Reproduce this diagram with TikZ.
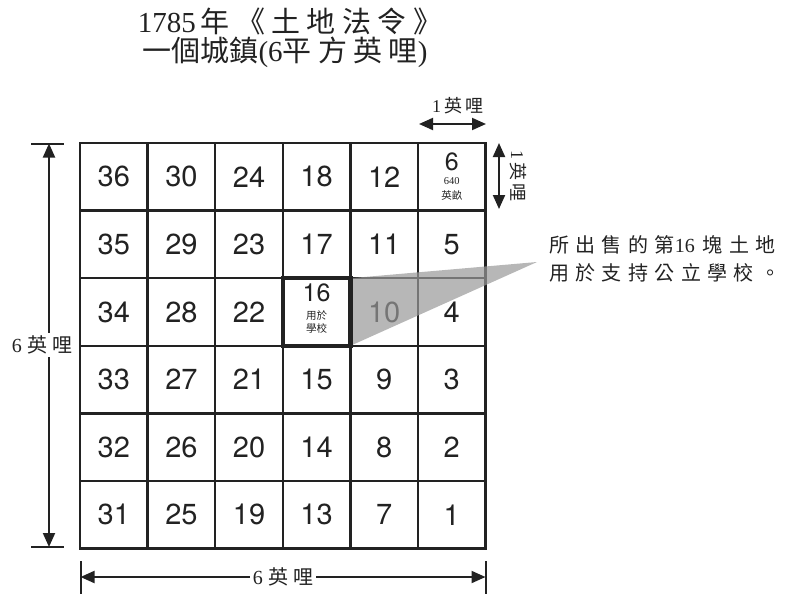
\documentclass[tikz,border=0pt]{standalone}
\usepackage{fontspec}
\usepackage{tikz}
\usetikzlibrary{arrows.meta}
\setmainfont{Liberation Serif}
\newfontfamily\cjk[LetterSpace=22]{Noto Sans CJK TC}
\newfontfamily\cjkwide[LetterSpace=32]{Noto Sans CJK TC}
\newfontfamily\cjktight{Noto Sans CJK TC}
\newfontfamily\numfont{TeX Gyre Heros}
\definecolor{ink}{HTML}{222222}

\begin{document}
\begin{tikzpicture}[x=1pt,y=-1pt,
    cell/.style={draw=ink,line width=2.3pt,minimum size=67.6pt,inner sep=0pt,outer sep=0pt},
    num/.style={text=ink,font=\numfont\fontsize{29}{29}\selectfont,inner sep=0pt},
    smallnum/.style={text=ink,font=\numfont\fontsize{25}{25}\selectfont,inner sep=0pt},
    tiny/.style={text=ink,font=\fontsize{10.5}{10.5}\selectfont,inner sep=0pt},
    dim/.style={ink,line width=2pt,{Triangle[length=14pt,width=12pt]}-{Triangle[length=14pt,width=12pt]}},
    tickline/.style={ink,line width=2pt},
    lbl/.style={text=ink,font=\fontsize{20}{20}\selectfont,fill=white,inner sep=3pt}]
    \useasboundingbox (0,0) rectangle (794,594);

    % title
    \node[text=ink] (title1) at (290,21) {\fontsize{29}{29}\selectfont 1785\hspace{5pt}{\cjk 年《土地法令》}};
    \node[text=ink] (title2) at (285,52) {\fontsize{29}{29}\selectfont{\cjktight 一個城鎮}(6{\cjk 平方英哩})};

    % township grid
    \foreach \col in {0,...,5}
        \foreach \row in {0,...,5}{
            \pgfmathtruncatemacro{\n}{36-6*\col-\row}
            \node[cell] (c\n) at ({113.8+67.6*\col},{176.8+67.6*\row}) {};
        }
    \foreach \n in {1,...,5,7,8,...,15,17,18,...,36}
        \node[num] at (c\n) {\n};

    \node[smallnum] (n6) at ([yshift=15pt]c6) {6};
    \node[tiny] (acre1) at ([yshift=-4pt]c6) {640};
    \node[tiny] (acre2) at ([yshift=-19pt]c6) {\cjktight 英畝};

    \node[smallnum] (n16) at ([yshift=19pt]c16) {16};
    \node[tiny] (school1) at ([yshift=-4pt]c16) {\cjktight 用於};
    \node[tiny] (school2) at ([yshift=-16pt]c16) {\cjktight 學校};

    % callout
    \coordinate (tip) at (537,262);
    \fill[black!40,fill opacity=0.7] (c16.north east) -- (tip) -- (c16.south east) -- cycle;
    \draw[ink,line width=4.5pt] (c16.north west) rectangle (c16.south east);
    \node[text=ink,anchor=west,inner sep=0pt] (note1) at (549,245)
        {\fontsize{20}{20}\selectfont{\cjkwide 所出售的第}16\hspace{8pt}{\cjkwide 塊土地}};
    \node[text=ink,anchor=west,inner sep=0pt] (note2) at (549,273)
        {\fontsize{20}{20}\selectfont{\cjkwide 用於支持公立學校。}};

    % dimensions
    \coordinate (ltop) at (49,143.5);
    \coordinate (lbot) at (49,547);
    \draw[tickline] ([xshift=-18pt]ltop) -- ([xshift=15pt]ltop);
    \draw[tickline] ([xshift=-18pt]lbot) -- ([xshift=15pt]lbot);
    \draw[dim] (ltop) -- node[lbl,xshift=-7pt] (lefttext) {6\hspace{6pt}{\cjk 英哩}} (lbot);

    \coordinate (bleft) at (80.5,577);
    \coordinate (bright) at (485.5,577);
    \draw[tickline] ([yshift=16pt]bleft) -- ([yshift=-17pt]bleft);
    \draw[tickline] ([yshift=16pt]bright) -- ([yshift=-17pt]bright);
    \draw[dim] (bleft) -- node[lbl] (bottomtext) {6\hspace{6pt}{\cjk 英哩}} (bright);

    \coordinate (tleft) at (419,124);
    \coordinate (tright) at (486,124);
    \draw[dim] (tleft) -- (tright);
    \node[text=ink,font=\fontsize{18}{18}\selectfont] (toptext) at (458,106) {1\hspace{3pt}{\cjk 英哩}};

    \coordinate (rtop) at (499,143);
    \coordinate (rbot) at (499,209);
    \draw[dim] (rtop) -- (rbot);
    \node[text=ink,font=\fontsize{18}{18}\selectfont,rotate=-90] (righttext) at (518,176) {1\hspace{3pt}{\cjk 英哩}};
\end{tikzpicture}
\end{document}
